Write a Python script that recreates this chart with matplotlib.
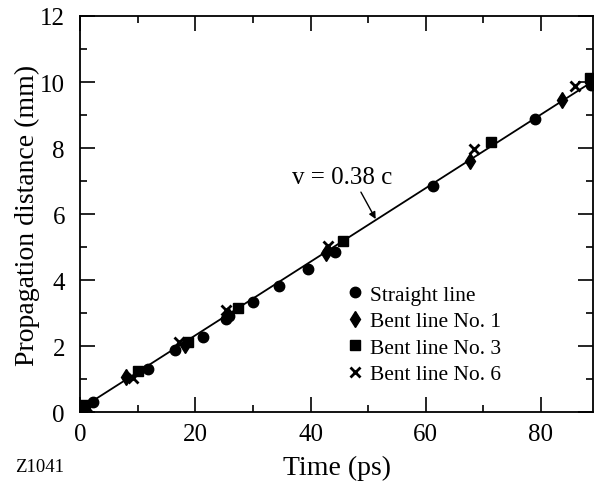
import matplotlib.pyplot as plt
import numpy as np

plt.rcParams['font.family'] = ['Liberation Serif', 'DejaVu Serif']

# straight line (circles)
t_straight = [0.3, 2.3, 11.8, 16.5, 21.3, 25.4, 25.9, 30.0, 34.5, 39.5, 44.2, 61.2, 79.0, 88.6]
d_straight = [0.19, 0.32, 1.32, 1.88, 2.28, 2.82, 2.92, 3.34, 3.82, 4.33, 4.84, 6.86, 8.88, 9.92]
# bent line No. 1 (diamonds)
t_bent1 = [0.6, 8.0, 18.2, 25.6, 42.6, 67.6, 83.6]
d_bent1 = [0.12, 1.08, 2.05, 2.95, 4.82, 7.62, 9.45]
# bent line No. 3 (squares)
t_bent3 = [0.8, 10.1, 18.8, 27.4, 45.6, 71.3, 88.5]
d_bent3 = [0.22, 1.25, 2.12, 3.15, 5.2, 8.17, 10.12]
# bent line No. 6 (crosses)
t_bent6 = [1.2, 9.2, 17.1, 25.4, 43.0, 68.4, 85.9]
d_bent6 = [0.15, 1.05, 2.14, 3.1, 5.02, 7.98, 9.88]

# fitted line
t_fit = [0.0, 89.0]
d_fit = [0.1, 10.02]

fig = plt.figure(figsize=(5.94, 4.85), dpi=100)
ax = fig.add_axes([0.135, 0.148, 0.863, 0.817])

ax.plot(t_fit, d_fit, 'k-', lw=1.3)
ax.plot(t_straight, d_straight, 'ko', ms=7.5, ls='none', label='Straight line')
ax.plot(t_bent1, d_bent1, 'kd', ms=8, ls='none', label='Bent line No. 1')
ax.plot(t_bent3, d_bent3, 'ks', ms=7.5, ls='none', label='Bent line No. 3')
ax.plot(t_bent6, d_bent6, 'kx', ms=7, mew=2, ls='none', label='Bent line No. 6')

ax.annotate('v = 0.38 c', xy=(51.3, 5.85), xytext=(45.4, 7.12),
            ha='center', va='center', fontsize=18,
            arrowprops=dict(arrowstyle='-|>', color='k', lw=1, shrinkA=1, shrinkB=0,
                            mutation_scale=10, relpos=(0.67, 0.0)))

ax.set(xlim=(0, 89), ylim=(0, 12))
ax.set_xticks([0, 20, 40, 60, 80])
ax.set_xticks([10, 30, 50, 70], minor=True)
ax.set_yticks([0, 2, 4, 6, 8, 10, 12])
ax.set_yticks([1, 3, 5, 7, 9, 11], minor=True)
ax.tick_params(which='both', direction='in', top=True, right=True, labelsize=18, width=1.2)
ax.tick_params(which='major', length=11)
ax.tick_params(which='minor', length=5)
ax.tick_params(axis='x', pad=8)
ax.tick_params(axis='y', pad=11)
for s in ax.spines.values():
    s.set_linewidth(1.3)

ax.set_xlabel('Time (ps)', fontsize=20, labelpad=7)
ax.set_ylabel('Propagation distance (mm)', fontsize=20, labelpad=0)

ax.legend(loc='upper left', bbox_to_anchor=(0.515, 0.322), frameon=False, fontsize=15.5,
          handletextpad=0.2, labelspacing=0.3, handlelength=1.0, borderpad=0,
          borderaxespad=0)

fig.text(0.025, 0.027, 'Z1041', fontsize=13.5)

fig.savefig('out.png')
